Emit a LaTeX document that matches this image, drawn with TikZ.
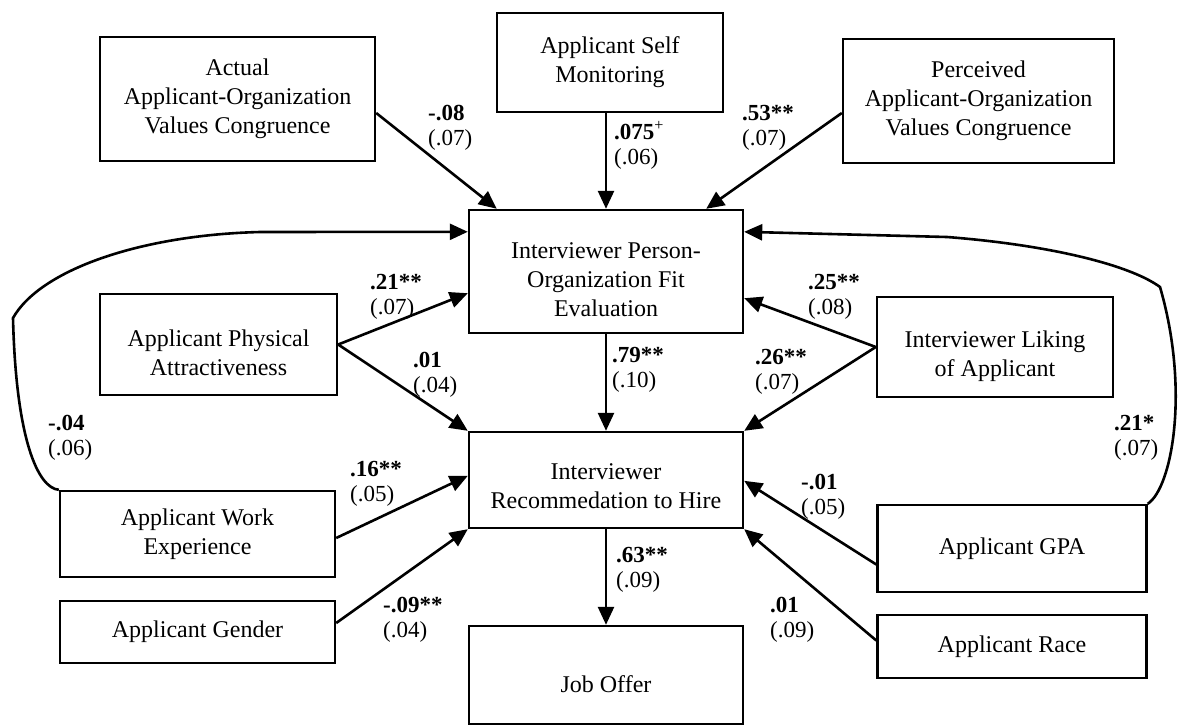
\documentclass[tikz,border=0pt]{standalone}
\usepackage{fontspec}
\setmainfont{Liberation Serif}
\usetikzlibrary{arrows.meta,calc}
\begin{document}
\begin{tikzpicture}[x=1pt,y=-1pt,
  box/.style={draw,line width=2.4pt,inner sep=0pt,align=center,font=\fontsize{24}{29}\selectfont},
  txt/.style={inner sep=0pt,align=center,font=\fontsize{24}{29}\selectfont},
  con/.style={line width=2.6pt,-{Triangle[length=18pt,width=16pt]}},
  lab/.style={anchor=west,align=left,inner sep=0pt,font=\fontsize{23}{25}\selectfont},
]
\useasboundingbox[fill=white] (0,0) rectangle (1179,726);
% boxes
\node[box,minimum width=275pt,minimum height=124pt] (act) at (237.5,99) {Actual\\Applicant-Organization\\Values Congruence};
\node[box,minimum width=226pt,minimum height=99pt] (self) at (610,62.5) {Applicant Self\\Monitoring};
\node[box,minimum width=271pt,minimum height=124pt] (per) at (978.5,101) {Perceived\\Applicant-Organization\\Values Congruence};
\node[box,minimum width=274pt,minimum height=123pt] (po) at (606,271.5) {};
\node[txt] (po-t) at ($(po)+(0,8)$) {Interviewer Person-\\Organization Fit\\Evaluation};
\node[box,minimum width=237pt,minimum height=101pt] (phys) at (218.5,344.5) {};
\node[txt] (phys-t) at ($(phys)+(0,8)$) {Applicant Physical\\Attractiveness};
\node[box,minimum width=236pt,minimum height=100pt] (lik) at (995,347) {};
\node[txt] (lik-t) at ($(lik)+(0,9)$) {Interviewer Liking\\of Applicant};
\node[box,minimum width=274pt,minimum height=96pt] (rec) at (606,480) {};
\node[txt] (rec-t) at ($(rec)+(0,6)$) {Interviewer\\Recommedation to Hire};
\node[box,minimum width=275pt,minimum height=86pt] (work) at (197.5,534) {Applicant Work\\Experience};
\node[box,minimum width=275pt,minimum height=62pt] (gen) at (197.5,632) {Applicant Gender};
\node[box,minimum width=269pt,minimum height=87pt] (gpa) at (1012,548.5) {Applicant GPA};
\node[box,minimum width=269pt,minimum height=63pt] (race) at (1012,646.5) {Applicant Race};
\node[box,minimum width=274pt,minimum height=98pt] (job) at (606,675) {};
\node[txt] (job-t) at ($(job)+(0,9)$) {Job Offer};
% connectors
\draw[con] ($(act.east)+(0,14)$) -- ($(po.north west)+(29,0)$);
\draw[con] (po.north |- self.south) -- (po.north);
\draw[con] ($(per.west)+(0,12)$) -- ($(po.north east)+(-38,0)$);
\draw[con] (work.north west) .. controls (38,488) and (16,440) .. (13,318)
   .. controls (40,270) and (140,235) .. (260,232) -- ($(po.north west)+(0,23)$);
\draw[con] (gpa.north east) .. controls (1172,488) and (1190,390) .. (1160,287)
   .. controls (1130,265) and (1050,245) .. (947,237) -- ($(po.north east)+(0,23)$);
\draw[con] (phys.east) -- ($(po.south west)+(0,-41)$);
\draw[con] (phys.east) -- (rec.north west);
\draw[con] (lik.west) -- ($(po.south east)+(0,-36)$);
\draw[con] (lik.west) -- (rec.north east);
\draw[con] (po.south) -- (rec.north);
\draw[con] ($(work.east)+(0,4)$) -- ($(rec.north west)+(0,45)$);
\draw[con] ($(gen.east)+(0,-9)$) -- (rec.south west);
\draw[con] ($(gpa.west)+(0,16)$) -- ($(rec.north east)+(0,50)$);
\draw[con] ($(race.west)+(0,-6)$) -- (rec.south east);
\draw[con] (rec.south) -- (job.north);
% labels
\node[lab] (l1) at (428,128) {\textbf{-.08}\\(.07)};
\node[lab] (l2) at (614,145) {\textbf{.075}\textsuperscript{+}\\(.06)};
\node[lab] (l3) at (742,128) {\textbf{.53**}\\(.07)};
\node[lab] (l4) at (370,297) {\textbf{.21**}\\(.07)};
\node[lab] (l5) at (413,375) {\textbf{.01}\\(.04)};
\node[lab] (l6) at (48,438) {\textbf{-.04}\\(.06)};
\node[lab] (l7) at (350,484) {\textbf{.16**}\\(.05)};
\node[lab] (l8) at (383,620) {\textbf{-.09**}\\(.04)};
\node[lab] (l9) at (612,370) {\textbf{.79**}\\(.10)};
\node[lab] (l10) at (808,297) {\textbf{.25**}\\(.08)};
\node[lab] (l11) at (755,372) {\textbf{.26**}\\(.07)};
\node[lab] (l12) at (1114,438) {\textbf{.21*}\\(.07)};
\node[lab] (l13) at (801,497) {\textbf{-.01}\\(.05)};
\node[lab] (l14) at (770,620) {\textbf{.01}\\(.09)};
\node[lab] (l15) at (616,570) {\textbf{.63**}\\(.09)};
\end{tikzpicture}
\end{document}
